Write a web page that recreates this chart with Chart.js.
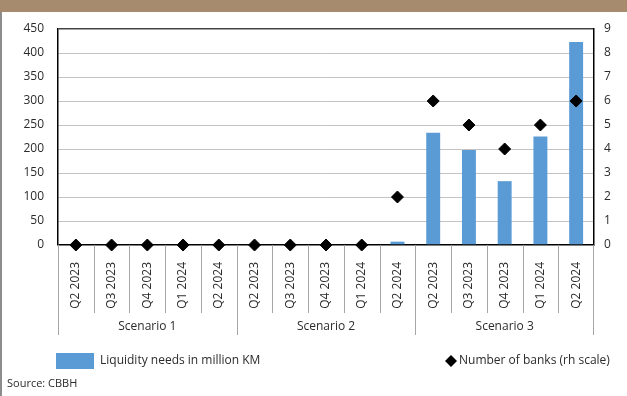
<!DOCTYPE html>
<html>
<head>
<meta charset="utf-8">
<script src="https://cdn.jsdelivr.net/npm/chart.js@4/dist/chart.umd.min.js"></script>
<style>
  body { margin: 0; background: #fff; }
  #wrap { position: relative; width: 627px; height: 396px; overflow: hidden; }
  #band { position: absolute; left: 0; top: 0; width: 627px; height: 12px; background: #a68b6f; }
  #edge { position: absolute; left: 0; top: 12px; width: 2px; height: 384px; background: #8c8c8c; }
  canvas { position: absolute; left: 0; top: 0; }
</style>
</head>
<body>
<div id="wrap">
  <div id="band"></div>
  <div id="edge"></div>
  <canvas id="chartLiq" width="627" height="396"></canvas>
</div>
<script>
// quarters repeat for every scenario
var quarters = ['Q2 2023', 'Q3 2023', 'Q4 2023', 'Q1 2024', 'Q2 2024'];
var scenarios = ['Scenario 1', 'Scenario 2', 'Scenario 3'];
var liquidity = [0, 0, 0, 0, 0,   0, 0, 0, 0, 7,   234, 198, 133, 226, 423];
var banks     = [0, 0, 0, 0, 0,   0, 0, 0, 0, 2,   6, 5, 4, 5, 6];
var leftTicks = [0, 450, 50];
var rightTicks = [0, 9, 1];

var labels = [];
scenarios.forEach(function () {
    quarters.forEach(function (q) { labels.push(q); });
});

var fontName = "'Open Sans', 'Noto Sans', sans-serif";
var textColor = '#2b2b2b';

// scenario groups under the axis, plus legend and source line
var groupAxis = {
    id: 'groupAxis',
    afterDraw: function (chart) {
        var ctx = chart.ctx;
        var x = chart.scales.x;
        var area = chart.chartArea;
        var half = (x.getPixelForValue(1) - x.getPixelForValue(0)) / 2;
        var n = labels.length;
        ctx.save();
        ctx.strokeStyle = '#a6a6a6';
        ctx.lineWidth = 1;
        for (var i = 0; i <= n; i++) {
            var px = Math.round(x.getPixelForValue(i) - half) + 0.5;
            if (i === n) px = Math.round(x.getPixelForValue(n - 1) + half) - 0.5;
            var grp = (i % quarters.length === 0);
            ctx.beginPath();
            ctx.moveTo(px, area.bottom);
            ctx.lineTo(px, area.bottom + (grp ? 90 : 68));
            ctx.stroke();
        }
        ctx.fillStyle = textColor;
        ctx.font = '12px ' + fontName;
        ctx.textAlign = 'center';
        ctx.textBaseline = 'middle';
        scenarios.forEach(function (s, g) {
            var a = x.getPixelForValue(g * quarters.length);
            var b = x.getPixelForValue((g + 1) * quarters.length - 1);
            ctx.fillText(s, (a + b) / 2, area.bottom + 82);
        });

        // legend
        var ds = chart.data.datasets;
        ctx.textAlign = 'left';
        ctx.fillStyle = ds[0].backgroundColor;
        ctx.fillRect(56, 353, 38, 16);
        ctx.fillStyle = textColor;
        ctx.fillText(ds[0].label, 100, 361);
        ctx.fillStyle = '#000';
        ctx.beginPath();
        ctx.moveTo(445, 361); ctx.lineTo(451, 355); ctx.lineTo(457, 361); ctx.lineTo(451, 367);
        ctx.closePath();
        ctx.fill();
        ctx.fillStyle = textColor;
        ctx.fillText(ds[1].label, 459, 361);

        ctx.font = '11px ' + fontName;
        ctx.fillText('Source: CBBH', 7, 384);
        ctx.restore();
    }
};

new Chart(document.getElementById('chartLiq'), {
    data: {
        labels: labels,
        datasets: [{
            type: 'bar',
            label: 'Liquidity needs in million KM',
            data: liquidity,
            backgroundColor: '#5b9bd5',
            barPercentage: 0.39,
            categoryPercentage: 1,
            yAxisID: 'y',
            order: 2
        }, {
            type: 'line',
            label: 'Number of banks (rh scale)',
            data: banks,
            showLine: false,
            pointStyle: 'rectRot',
            pointRadius: 6,
            pointHoverRadius: 6,
            pointBackgroundColor: '#000',
            pointBorderColor: '#000',
            pointBorderWidth: 1,
            yAxisID: 'y1',
            clip: false,
            order: 1
        }]
    },
    options: {
        responsive: false,
        animation: false,
        layout: { padding: { top: 29, left: 0, right: 0, bottom: 0 } },
        plugins: { legend: { display: false }, tooltip: { enabled: false } },
        scales: {
            x: {
                grid: { display: false, drawTicks: false },
                border: { display: false },
                ticks: {
                    minRotation: 90, maxRotation: 90, autoSkip: false,
                    padding: 17, color: textColor,
                    font: { family: fontName, size: 12 }
                },
                afterFit: function (s) { s.height = 151; }
            },
            y: {
                position: 'left',
                min: leftTicks[0], max: leftTicks[1],
                ticks: { stepSize: leftTicks[2], padding: 14, color: textColor, font: { family: fontName, size: 12 } },
                grid: {
                    drawTicks: false,
                    color: function (c) {
                        if (c.tick.value === 0) return '#000';
                        if (c.tick.value === leftTicks[1]) return '#444';
                        return '#c3c3c3';
                    },
                    lineWidth: function (c) { return (c.tick.value === 0 || c.tick.value === leftTicks[1]) ? 1.5 : 1; }
                },
                border: { color: '#000', width: 1.5 },
                afterFit: function (s) { s.width = 58; }
            },
            y1: {
                position: 'right',
                min: rightTicks[0], max: rightTicks[1],
                ticks: { stepSize: rightTicks[2], padding: 10, color: textColor, font: { family: fontName, size: 12 } },
                grid: { display: false, drawTicks: false },
                border: { color: '#000', width: 1.5 },
                afterFit: function (s) { s.width = 33; }
            }
        }
    },
    plugins: [groupAxis]
});
</script>
</body>
</html>
